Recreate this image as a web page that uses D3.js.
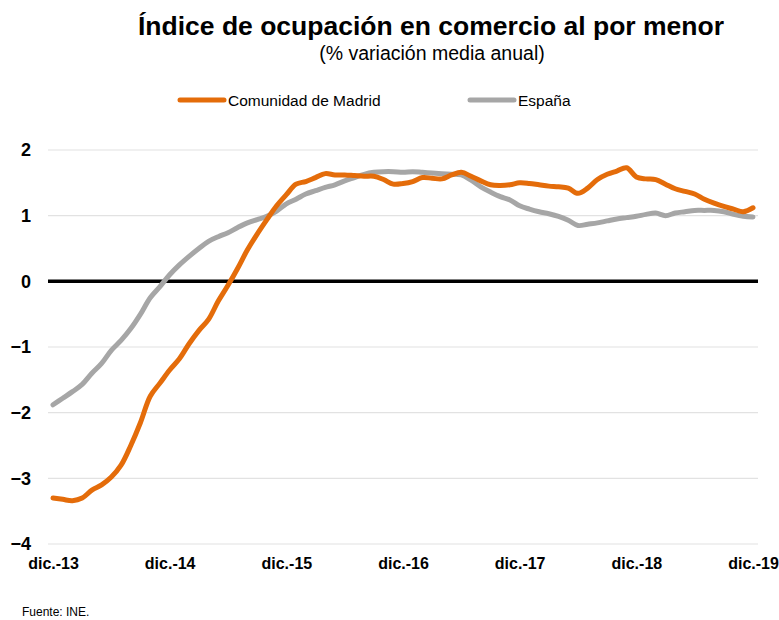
<!DOCTYPE html>
<html>
<head>
<meta charset="utf-8">
<script src="https://cdn.jsdelivr.net/npm/d3@7"></script>
<style>
  body { margin: 0; background: #fff; }
  text { font-family: "Liberation Sans", Arial, sans-serif; }
</style>
</head>
<body>
<svg id="chart"></svg>
<script>
// monthly values, dic.-13 .. dic.-19
const madrid = [
  -3.30, -3.32, -3.34, -3.30, -3.18, -3.10, -2.98, -2.80, -2.50, -2.15,
  -1.75, -1.55, -1.35, -1.18, -0.95, -0.75, -0.58, -0.30, -0.06, 0.20,
  0.48, 0.72, 0.94, 1.15, 1.32, 1.48, 1.52, 1.58, 1.64, 1.62,
  1.62, 1.61, 1.60, 1.60, 1.55, 1.48, 1.49, 1.52, 1.58, 1.57,
  1.56, 1.62, 1.66, 1.60, 1.53, 1.47, 1.46, 1.47, 1.50, 1.49,
  1.47, 1.45, 1.44, 1.42, 1.34, 1.42, 1.55, 1.63, 1.68, 1.73,
  1.59, 1.56, 1.55, 1.48, 1.41, 1.37, 1.33, 1.25, 1.19, 1.14,
  1.10, 1.06, 1.12
];
const espana = [
  -1.88, -1.78, -1.68, -1.57, -1.40, -1.25, -1.05, -0.90, -0.72, -0.50,
  -0.25, -0.08, 0.10, 0.25, 0.38, 0.50, 0.61, 0.68, 0.74, 0.82,
  0.89, 0.94, 0.99, 1.07, 1.18, 1.25, 1.33, 1.38, 1.43, 1.47,
  1.53, 1.58, 1.63, 1.66, 1.67, 1.67, 1.66, 1.67, 1.66, 1.65,
  1.64, 1.63, 1.62, 1.54, 1.44, 1.36, 1.29, 1.24, 1.15, 1.10,
  1.06, 1.03, 0.99, 0.93, 0.85, 0.87, 0.89, 0.92, 0.95, 0.97,
  0.99, 1.02, 1.04, 1.00, 1.04, 1.06, 1.08, 1.08, 1.08, 1.06,
  1.02, 0.99, 0.98
];
const xTickLabels = ["dic.-13", "dic.-14", "dic.-15", "dic.-16", "dic.-17", "dic.-18", "dic.-19"];
const yTicks = [-4, -3, -2, -1, 0, 1, 2];
const seriesNames = ["Comunidad de Madrid", "España"];

const W = 779, H = 620;
const svg = d3.select("#chart").attr("width", W).attr("height", H);

const x = d3.scaleLinear().domain([0, madrid.length - 1]).range([53, 753]);
const y = d3.scaleLinear().domain([-4, 2]).range([544, 150]);

// title
svg.append("text")
  .attr("x", 431).attr("y", 35)
  .attr("text-anchor", "middle")
  .style("font-size", "26.5px").style("font-weight", "bold")
  .text("Índice de ocupación en comercio al por menor");
svg.append("text")
  .attr("x", 432).attr("y", 60)
  .attr("text-anchor", "middle")
  .style("font-size", "19.5px")
  .text("(% variación media anual)");

// grid
svg.append("g")
  .selectAll("line")
  .data(yTicks.filter(d => d !== 0))
  .enter().append("line")
  .attr("x1", 48).attr("x2", 758)
  .attr("y1", d => y(d)).attr("y2", d => y(d))
  .attr("stroke", "#e2e2e2").attr("stroke-width", 1.2);

// y labels
const yAxis = svg.append("g")
  .attr("transform", "translate(31,0)")
  .call(d3.axisLeft(y).tickValues(yTicks).tickSize(0).tickPadding(0).tickFormat(d3.format("d")));
yAxis.select(".domain").remove();
yAxis.selectAll("text")
  .style("font-size", "18px").style("font-weight", "bold")
  .attr("fill", "#000");

// x labels
const xAxis = svg.append("g")
  .attr("transform", "translate(0,544)")
  .call(d3.axisBottom(x).tickValues(d3.range(0, madrid.length, 12)).tickSize(0).tickPadding(0)
    .tickFormat((d, i) => xTickLabels[i]));
xAxis.select(".domain").remove();
xAxis.selectAll("text")
  .attr("dy", "1.55em")
  .style("font-size", "16px").style("font-weight", "bold")
  .attr("fill", "#000");

// zero line
svg.append("line")
  .attr("x1", 48).attr("x2", 758)
  .attr("y1", y(0)).attr("y2", y(0))
  .attr("stroke", "#000").attr("stroke-width", 3.5);

const line = d3.line()
  .x((d, i) => x(i))
  .y(d => y(d))
  .curve(d3.curveCatmullRom);

const colors = ["#e46c0a", "#a6a6a6"];

svg.append("path").datum(espana)
  .attr("d", line).attr("fill", "none")
  .attr("stroke", colors[1]).attr("stroke-width", 5).attr("stroke-linecap", "round");
svg.append("path").datum(madrid)
  .attr("d", line).attr("fill", "none")
  .attr("stroke", colors[0]).attr("stroke-width", 5).attr("stroke-linecap", "round");

// legend
const legendX = [180, 470];
const leg = svg.append("g").selectAll("g")
  .data(seriesNames)
  .enter().append("g")
  .attr("transform", (d, i) => "translate(" + legendX[i] + ",100)");
leg.append("line")
  .attr("x1", 0).attr("x2", 44)
  .attr("stroke", (d, i) => colors[i]).attr("stroke-width", 5).attr("stroke-linecap", "round");
leg.append("text")
  .attr("x", 48).attr("y", 5.5)
  .style("font-size", "15.5px")
  .text(d => d);

// source
svg.append("text")
  .attr("x", 22).attr("y", 616)
  .style("font-size", "12px")
  .text("Fuente: INE.");
</script>
</body>
</html>
